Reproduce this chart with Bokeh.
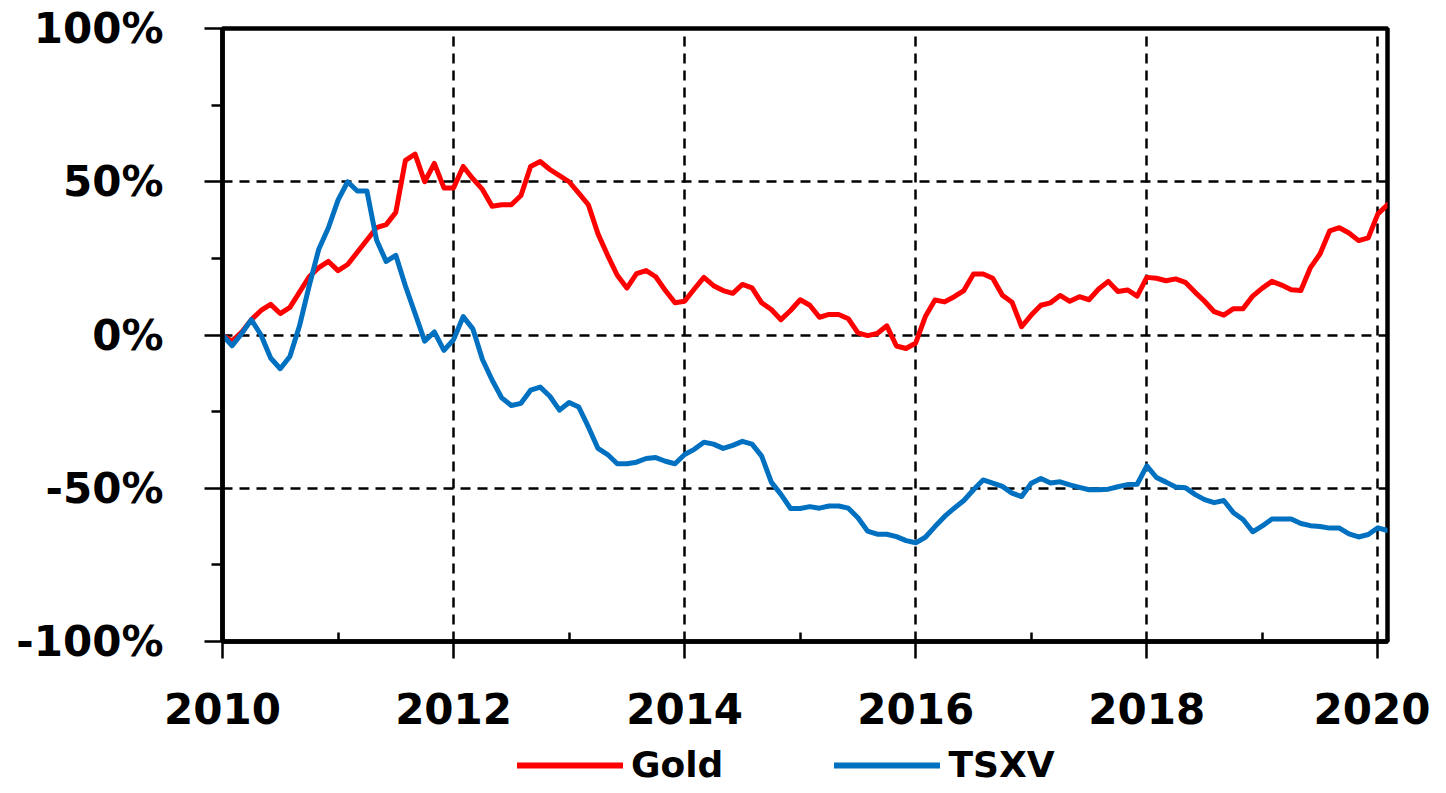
import pandas as pd
from bokeh.plotting import figure
from bokeh.layouts import column
from bokeh.models import (Range1d, FixedTicker, PrintfTickFormatter, Legend, LegendItem,
                          ColumnDataSource)
from bokeh.embed import file_html
from bokeh.resources import INLINE

# ---- data (monthly, Jan 2010 - Feb 2020), cumulative % change ----
months = pd.date_range("2010-01-01", periods=122, freq="MS")

gold = [0, -2, 1, 5, 8, 10, 7, 9, 14, 19, 22, 24,
        21, 23, 27, 31, 35, 36, 40, 57, 59, 50, 56, 48,
        48, 55, 51, 47.5, 42, 42.5, 42.5, 45.5, 55, 56.6, 54, 52,
        50, 46.3, 42.5, 33, 26, 19.5, 15.3, 20, 21, 19, 14.5, 10.5,
        11, 15, 18.8, 16.1, 14.5, 13.6, 16.5, 15.4, 10.5, 8.3, 5, 8,
        11.5, 9.7, 5.8, 6.7, 6.7, 5.3, 0.7, -0.2, 0.5, 3, -3.6, -4.4,
        -2.6, 6, 11.4, 10.8, 12.5, 14.5, 19.9, 19.9, 18.5, 13, 10.7, 2.7,
        6.5, 9.7, 10.5, 12.9, 11, 12.5, 11.5, 15, 17.5, 14.2, 14.7, 12.7,
        18.8, 18.5, 17.7, 18.3, 17.2, 14, 11, 7.6, 6.5, 8.6, 8.6, 12.7,
        15.3, 17.5, 16.3, 14.8, 14.5, 22, 26.5, 34, 35, 33.3, 30.8, 31.7,
        39.5, 42.5]

tsxv = [0, -3.5, 0.5, 5, 0, -7.5, -11, -7, 3, 16, 28, 35,
        44, 50, 47, 47, 31, 24, 26, 16, 7, -2, 1, -5,
        -1.5, 6, 2, -8, -14.7, -20.5, -23, -22.3, -18, -17, -20, -24.5,
        -22, -23.5, -30, -37, -39, -42, -42, -41.5, -40.3, -40, -41.2, -42,
        -39, -37.3, -35, -35.6, -37, -36, -34.7, -35.6, -39.5, -48, -52, -56.6,
        -56.6, -56, -56.5, -55.8, -55.8, -56.5, -59.6, -64, -65, -65, -65.8, -67.1,
        -67.8, -66, -62.5, -59.2, -56.5, -54, -50.5, -47.3, -48.3, -49.4, -51.6, -52.7,
        -48.4, -46.8, -48.3, -47.9, -48.9, -49.7, -50.5, -50.5, -50.3, -49.5, -48.8, -48.7,
        -42.7, -46.5, -48, -49.6, -49.8, -52, -53.7, -54.7, -54, -58, -60.2, -64.2,
        -62.3, -60, -60, -60, -61.5, -62.2, -62.5, -63, -63, -64.9, -65.9, -65.1,
        -62.9, -63.8]

x_major = [2010, 2012, 2014, 2016, 2018, 2020]
x_minor = [2011, 2013, 2015, 2017, 2019]
y_major = [-100, -50, 0, 50, 100]
y_minor = [-75, -25, 25, 75]

series_names = ["Gold", "TSXV"]
series_colors = ["#FF0000", "#0070C0"]

xs = [d.year + (d.month - 1) / 12.0 for d in months]
src = ColumnDataSource(dict(x=xs, gold=gold, tsxv=tsxv))

W = 1430
MAIN_H = 743
LEG_H = 42

p = figure(width=W, height=MAIN_H, output_backend="svg", toolbar_location=None,
           x_range=Range1d(2010, 2010 + 121 / 12.0), y_range=Range1d(-100, 100),
           min_border_left=222, min_border_right=43, min_border_top=28,
           min_border_bottom=MAIN_H - 641)
p.background_fill_color = "white"
p.border_fill_color = "white"
p.outline_line_color = "black"
p.outline_line_width = 4.5

# grids
for g in (p.xgrid, p.ygrid):
    g.grid_line_color = "black"
    g.grid_line_width = 2.5
    g.grid_line_dash = "10 7"
p.xgrid.ticker = FixedTicker(ticks=x_major)
p.ygrid.ticker = FixedTicker(ticks=y_major)

# axes
p.xaxis.ticker = FixedTicker(ticks=x_major, minor_ticks=x_minor)
p.yaxis.ticker = FixedTicker(ticks=y_major, minor_ticks=y_minor)
p.xaxis.formatter = PrintfTickFormatter(format="%d")
p.yaxis.formatter = PrintfTickFormatter(format="%d%%")
for ax in (p.xaxis[0], p.yaxis[0]):
    ax.axis_line_color = "black"
    ax.axis_line_width = 4.5
    ax.major_tick_line_color = "black"
    ax.major_tick_line_width = 2.5
    ax.minor_tick_line_color = "black"
    ax.minor_tick_line_width = 2.5
    ax.major_label_text_font = "DejaVu Sans"
    ax.major_label_text_font_style = "bold"
    ax.major_label_text_font_size = "42px"
    ax.major_label_text_color = "black"

p.yaxis.major_tick_out = 18
p.yaxis.major_tick_in = 0
p.yaxis.minor_tick_out = 11
p.yaxis.minor_tick_in = 0
p.yaxis.major_label_standoff = 41

p.xaxis.major_tick_out = 17
p.xaxis.major_tick_in = 0
p.xaxis.minor_tick_out = 0
p.xaxis.minor_tick_in = 9
p.xaxis.major_label_standoff = 34

p.line("x", "gold", source=src, line_color=series_colors[0], line_width=5,
       line_join="round", line_cap="round")
p.line("x", "tsxv", source=src, line_color=series_colors[1], line_width=5,
       line_join="round", line_cap="round")

# ---- legend strip under the chart (its frame is aligned with the chart's frame) ----
leg = figure(width=W, height=LEG_H, output_backend="svg", toolbar_location=None,
             x_axis_type=None, y_axis_type=None,
             x_range=Range1d(0, 1), y_range=Range1d(1000, 1001),
             min_border_left=222, min_border_right=43,
             min_border_top=0, min_border_bottom=0)
leg.outline_line_color = None
leg.background_fill_color = "white"
leg.border_fill_color = "white"
# same series, out of this strip's view; used only for the legend swatches
lr_gold = leg.line("x", "gold", source=src, line_color=series_colors[0], line_width=6,
                   line_cap="round")
lr_tsxv = leg.line("x", "tsxv", source=src, line_color=series_colors[1], line_width=6,
                   line_cap="round")

legend = Legend(items=[LegendItem(label=series_names[0], renderers=[lr_gold]),
                       LegendItem(label=series_names[1], renderers=[lr_tsxv])],
                orientation="horizontal", location=(295, 0),
                glyph_width=106, glyph_height=30, label_standoff=8, spacing=111,
                padding=0, margin=0, border_line_color=None, background_fill_alpha=0,
                label_text_font="DejaVu Sans", label_text_font_style="bold",
                label_text_font_size="36px", label_text_color="black")
leg.add_layout(legend, "center")

layout = column(p, leg, spacing=0)
open("out.html", "w").write(file_html(layout, INLINE))
